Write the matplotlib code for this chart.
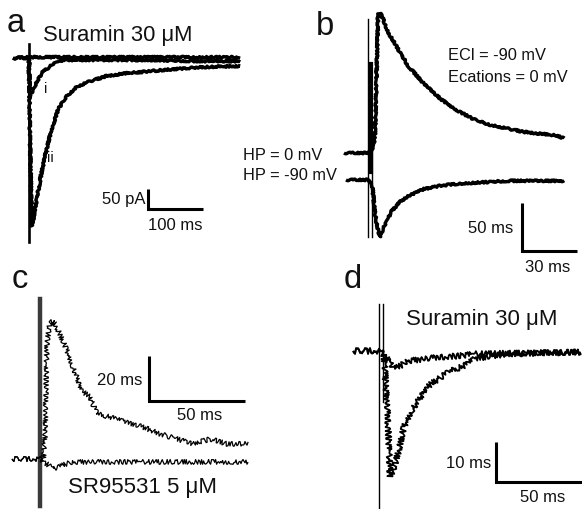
import matplotlib
matplotlib.use("Agg")
import matplotlib.pyplot as plt

plt.rcParams['font.family'] = ['Liberation Sans', 'DejaVu Sans']

# ---------------- data ----------------
# Panel a: time (ms) / current (pA)
A_TIME_CTRL = [-29, 0, 60, 150, 250, 384]
A_CUR_CTRL = [0, 2, 2, 2, 2, 2]
A_TIME_I = [-29, 0, 0.9, 3.6, 14, 25, 44, 62, 129, 220, 311, 384]
A_CUR_I = [0, 0, -95, -90, -60, -35, -15, -5, -5, -5, -8, -8]
A_TIME_II = [-29, 0, 1.8, 4.9, 7.3, 14, 23, 32, 41, 53, 69, 87, 111, 141, 178, 220, 262, 311, 384]
A_CUR_II = [0, 0, -202, -420, -407, -352, -285, -228, -178, -128, -95, -72, -58, -45, -38, -33, -28, -23, -20]

# Panel b: HP = 0 mV and HP = -90 mV traces
B_TIME_HP0 = [-13.1, 0, 2.2, 3.8, 4.9, 5.5, 6.5, 8.2, 10.9, 12.5, 17.4, 21.8, 30.5, 39.8, 49, 57.8, 67, 85, 103.5, 107]
B_CUR_HP0 = [0, 0, 4, 15, 98, 145, 146, 140, 126, 121, 105, 91, 72, 56, 44, 35, 29, 22, 18, 15]
B_TIME_HP90 = [-12, 0, 2.2, 3.8, 5.5, 6.5, 8.2, 10.9, 12.5, 17.4, 21.8, 30.5, 39.8, 49, 76.3, 107]
B_CUR_HP90 = [-28, -28, -32, -63, -81, -87.5, -79, -69, -61.5, -51, -45, -37.5, -34, -32, -29, -29]

# Panel c: control and SR95531 5 uM
C_TIME_CTRL = [-14.6, 0, 1.6, 2.6, 3.6, 5.2, 6.3, 7.8, 10.4, 14.1, 17.2, 21.9, 26, 29.7, 36.5, 45.3, 53.7, 62.5, 71.4, 79.7, 88.6, 97.4, 108.4]
C_CUR_CTRL = [0, 0, -0.9, 8.9, 51, 60.9, 60.9, 60, 55.5, 48, 40.9, 30.2, 27.5, 20, 18.6, 16.4, 14.2, 11.1, 8.9, 6.7, 8.9, 6.7, 6.7]
C_TIME_SR = [-14.6, 0, 2, 5, 7, 10, 14, 20, 40, 60, 80, 100, 108.4]
C_CUR_SR = [0, 0, -1.3, -3, -4.4, -3.5, -2, -1.3, -1.3, -1.3, -1.3, -1.3, -1.3]

# Panel d: control and suramin 30 uM
D_TIME_SUR = [-15.1, 0, 4.1, 8.7, 12.2, 16.8, 26.1, 36, 45.9, 55.2, 117.4]
D_CUR_SUR = [0, 0, -1.5, -4.5, -3.75, -2.5, -2, -1.5, -1.25, -0.75, -0.25]
D_TIME_CTRL = [-15.1, 0, 2.9, 5.2, 6.4, 8.1, 11, 14.5, 18.6, 22.7, 26.1, 30.2, 36, 41.8, 49.4, 55.2, 65.1, 75, 117.4]
D_CUR_CTRL = [0, 0, -0.75, -17.5, -31.25, -30, -25.75, -19, -15, -12.5, -10, -8.25, -6.5, -5, -3.75, -2, -1.25, -0.75, -0.25]

# ---------------- figure ----------------
W, H = 582, 510
fig = plt.figure(figsize=(W / 100, H / 100), dpi=100)


def overlay(x0, y0, sx, sy):
    """Axes over the full figure; data origin at pixel (x0, y0), sx units/px, sy units/px."""
    ax = fig.add_axes([0, 0, 1, 1])
    ax.set_xlim(-x0 * sx, (W - x0) * sx)
    ax.set_ylim(-(H - y0) * sy, y0 * sy)
    ax.set_axis_off()
    ax.patch.set_alpha(0)
    return ax


def trace(ax, t, y, lw, sketch, color='k'):
    ln, = ax.plot(t, y, color=color, lw=lw, solid_joinstyle='round', solid_capstyle='butt')
    if sketch:
        ln.set_sketch_params(*sketch)
    return ln


def scalebar(ax, t0, y0, hlen, vlen):
    ax.plot([t0, t0, t0 + hlen], [y0 + vlen, y0, y0], color='k', lw=2.2,
            solid_joinstyle='miter', solid_capstyle='butt')


def ftext(x, y, s, size, ha='left'):
    fig.text(x / W, 1 - y / H, s, fontsize=size, ha=ha, va='baseline', color='#111111')


LETTER = 23.5
TITLE = 15.8
LAB = 12
THICK_NOISE = (0.9, 1.5, 6)
C_NOISE = (2.4, 1.0, 10)
D_NOISE = (2.8, 1.0, 10)

# Panel a
axa = overlay(29, 59, 100 / 55, 50 / 20)
trace(axa, A_TIME_CTRL, A_CUR_CTRL, 2.4, THICK_NOISE)
trace(axa, A_TIME_I, A_CUR_I, 2.4, THICK_NOISE)
trace(axa, A_TIME_II, A_CUR_II, 2.4, THICK_NOISE)
axa.plot([0, 0], [35, -460], color='k', lw=1.9)
scalebar(axa, 216, -377.5, 100, 50)
ftext(7, 32, 'a', LETTER)
ftext(43, 41.5, 'Suramin 30 μM', TITLE)
ftext(44, 93, 'i', 10.5)
ftext(47, 162, 'ii', 10.5)
ftext(145, 204, '50 pA', LAB, ha='right')
ftext(175.5, 230, '100 ms', LAB, ha='center')

# Panel b
axb = overlay(368, 154, 30 / 55, 50 / 48)
trace(axb, B_TIME_HP0, B_CUR_HP0, 2.4, THICK_NOISE)
trace(axb, B_TIME_HP90, B_CUR_HP90, 2.4, THICK_NOISE)
axb.plot([0, 0], [140, -87.5], color='k', lw=1.0)
axb.plot([1.8, 1.8], [93, -20], color='k', lw=3.0)
axb.plot([2.2, 2.2], [22, -87.5], color='k', lw=1.0)
scalebar(axb, 84, -102, 30, 50)
ftext(316, 35, 'b', LETTER)
ftext(448, 60, 'ECl = -90 mV', 11.8)
ftext(448, 82, 'Ecations = 0 mV', 11.8)
ftext(243, 160, 'HP = 0 mV', 11.8)
ftext(243, 180, 'HP = -90 mV', 11.8)
ftext(513, 233, '50 ms', LAB, ha='right')
ftext(548, 272, '30 ms', LAB, ha='center')

# Panel c
axc = overlay(40, 460, 50 / 96, 20 / 45)
axc.plot([0, 0], [71, -20.9], color='#3a3a3a', lw=3.2)
trace(axc, C_TIME_CTRL, C_CUR_CTRL, 0.9, C_NOISE)
trace(axc, C_TIME_SR, C_CUR_SR, 0.9, C_NOISE)
scalebar(axc, 56.8, 25.8, 50, 20)
ftext(12, 288, 'c', LETTER)
ftext(142, 385, '20 ms', LAB, ha='right')
ftext(200, 420, '50 ms', LAB, ha='center')
ftext(68, 493, 'SR95531 5 μM', 16)

# Panel d
axd = overlay(379, 352, 50 / 86, 10 / 40)
axd.plot([0, 0], [11.75, -39.5], color='k', lw=1.0)
axd.plot([2.3, 2.3], [11.75, -12.75], color='k', lw=1.0)
trace(axd, D_TIME_SUR, D_CUR_SUR, 1.3, D_NOISE)
trace(axd, D_TIME_CTRL, D_CUR_CTRL, 1.3, D_NOISE)
scalebar(axd, 68, -32.75, 50, 10)
ftext(344, 288, 'd', LETTER)
ftext(406, 325, 'Suramin 30 μM', 16)
ftext(491, 468, '10 ms', LAB, ha='right')
ftext(543, 502, '50 ms', LAB, ha='center')

fig.savefig('out.png', dpi=100, facecolor='white')
